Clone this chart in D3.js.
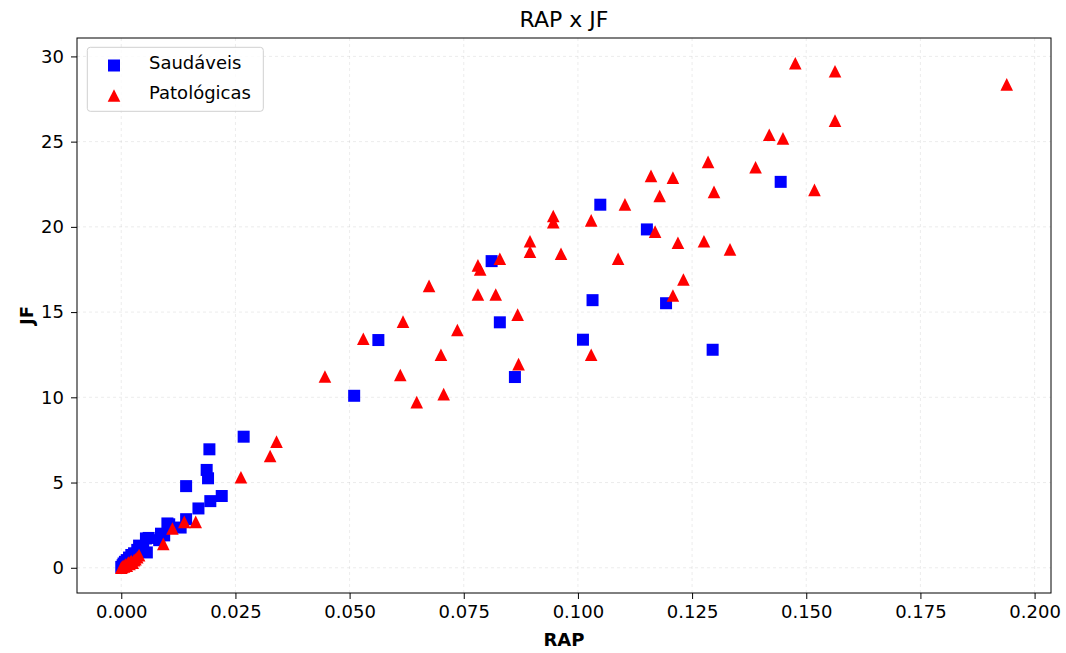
<!DOCTYPE html>
<html>
<head>
<meta charset="utf-8">
<script src="https://cdn.jsdelivr.net/npm/d3@7"></script>
<style>
  body { margin: 0; background: #fff; }
  svg { font-family: "DejaVu Sans", sans-serif; }
</style>
</head>
<body>
<div id="chart"></div>
<script>
const W = 1066, H = 653;
const margin = {left: 77, right: 15, top: 38, bottom: 60};
const plotW = W - margin.left - margin.right;
const plotH = H - margin.top - margin.bottom;

// Saudáveis (blue squares): [RAP, JF]
const saudaveis = [
  [0.0000,0.05],[0.0003,0.15],[0.0005,0.25],[0.0008,0.35],[0.0012,0.45],[0.0017,0.6],
  [0.0022,0.75],[0.0028,0.85],[0.0035,1.05],[0.0039,1.3],[0.0048,1.2],[0.0054,1.72],
  [0.0056,0.9],[0.0060,1.75],[0.0083,1.62],[0.0087,2.0],[0.0094,1.9],[0.0101,2.6],
  [0.0105,2.55],[0.0130,2.36],[0.0142,2.85],[0.0142,4.79],[0.0169,3.48],[0.0187,5.74],
  [0.0190,5.25],[0.0193,6.95],[0.0195,3.91],[0.0220,4.21],[0.0268,7.69],
  [0.0510,10.09],[0.0563,13.36],[0.0811,17.99],[0.0829,14.4],[0.0862,11.19],
  [0.1011,13.38],[0.1032,15.7],[0.1049,21.3],[0.1151,19.85],[0.1193,15.52],
  [0.1295,12.79],[0.1444,22.64]
];

// Patológicas (red triangles): [RAP, JF]
const patologicas = [
  [0.0000,0.0],[0.0002,0.05],[0.0004,0.1],[0.0006,0.08],[0.0008,0.15],[0.0010,0.2],
  [0.0012,0.12],[0.0014,0.25],[0.0016,0.3],[0.0018,0.22],[0.0020,0.35],[0.0022,0.4],
  [0.0025,0.3],[0.0028,0.45],[0.0031,0.5],[0.0035,0.62],[0.0039,0.74],
  [0.0092,1.4],[0.0112,2.3],[0.0138,2.69],[0.0163,2.69],[0.0262,5.31],[0.0326,6.56],
  [0.0340,7.4],[0.0446,11.22],[0.0530,13.44],[0.0611,11.31],[0.0617,14.44],
  [0.0647,9.72],[0.0674,16.54],[0.0700,12.5],[0.0706,10.19],[0.0736,13.95],
  [0.0781,17.74],[0.0786,17.5],[0.0781,16.03],[0.0820,16.03],[0.0829,18.13],
  [0.0868,14.85],[0.0870,11.95],[0.0895,19.16],[0.0895,18.54],[0.0946,20.64],
  [0.0946,20.28],[0.0963,18.42],[0.1029,20.38],[0.1029,12.5],[0.1088,18.13],
  [0.1103,21.32],[0.1160,22.99],[0.1169,19.72],[0.1179,21.81],[0.1208,22.89],
  [0.1208,15.97],[0.1219,19.07],[0.1231,16.91],[0.1276,19.16],[0.1285,23.81],
  [0.1298,22.05],[0.1333,18.68],[0.1389,23.5],[0.1419,25.4],[0.1449,25.19],
  [0.1476,29.6],[0.1518,22.17],[0.1563,29.13],[0.1563,26.23],[0.1939,28.36]
];

const xTicks = [0, 0.025, 0.05, 0.075, 0.1, 0.125, 0.15, 0.175, 0.2];
const yTicks = [0, 5, 10, 15, 20, 25, 30];
const seriesNames = ["Saudáveis", "Patológicas"];
const titleText = "RAP x JF";

const all = saudaveis.concat(patologicas);
const xExt = d3.extent(all, d => d[0]);
const yExt = d3.extent(all, d => d[1]);
const xPad = (xExt[1] - xExt[0]) * 0.05;
const yPad = (yExt[1] - yExt[0]) * 0.05;

const x = d3.scaleLinear().domain([xExt[0] - xPad, xExt[1] + xPad]).range([0, plotW]);
const y = d3.scaleLinear().domain([yExt[0] - yPad, yExt[1] + yPad]).range([plotH, 0]);

const svg = d3.select("#chart").append("svg")
  .attr("width", W).attr("height", H);

const g = svg.append("g")
  .attr("transform", "translate(" + margin.left + "," + margin.top + ")");

// grid
g.append("g").selectAll("line").data(xTicks).enter().append("line")
  .attr("x1", d => x(d)).attr("x2", d => x(d))
  .attr("y1", 0).attr("y2", plotH)
  .attr("stroke", "#b0b0b0").attr("stroke-opacity", 0.3)
  .attr("stroke-dasharray", "3,3").attr("stroke-width", 0.8);
g.append("g").selectAll("line").data(yTicks).enter().append("line")
  .attr("y1", d => y(d)).attr("y2", d => y(d))
  .attr("x1", 0).attr("x2", plotW)
  .attr("stroke", "#b0b0b0").attr("stroke-opacity", 0.3)
  .attr("stroke-dasharray", "3,3").attr("stroke-width", 0.8);

// axes
const xAxis = g.append("g")
  .attr("transform", "translate(0," + plotH + ")")
  .call(d3.axisBottom(x).tickValues(xTicks).tickFormat(d3.format(".3f")).tickSizeOuter(0).tickSize(6).tickPadding(6));
const yAxis = g.append("g")
  .call(d3.axisLeft(y).tickValues(yTicks).tickFormat(d3.format("d")).tickSizeOuter(0).tickSize(6).tickPadding(7));
[xAxis, yAxis].forEach(a => {
  a.select(".domain").remove();
  a.selectAll("text").attr("font-size", "18px").attr("fill", "#000")
    .attr("font-family", "DejaVu Sans, sans-serif");
  a.selectAll("line").attr("stroke", "#000").attr("stroke-width", 1);
});

// frame
g.append("rect").attr("x", 0).attr("y", 0).attr("width", plotW).attr("height", plotH)
  .attr("fill", "none").attr("stroke", "#000").attr("stroke-width", 1);

// markers
const sq = 12;
g.append("g").selectAll("rect").data(saudaveis).enter().append("rect")
  .attr("x", d => x(d[0]) - sq / 2).attr("y", d => y(d[1]) - sq / 2)
  .attr("width", sq).attr("height", sq).attr("fill", "#0000ff");

const th = 6.3;
const triPath = "M0," + (-th) + "L" + th + "," + th + "L" + (-th) + "," + th + "Z";
g.append("g").selectAll("path").data(patologicas).enter().append("path")
  .attr("d", triPath)
  .attr("transform", d => "translate(" + x(d[0]) + "," + y(d[1]) + ")")
  .attr("fill", "#ff0000");

// title and labels
svg.append("text").attr("x", margin.left + plotW / 2).attr("y", 27)
  .attr("text-anchor", "middle").attr("font-size", "22px").text(titleText);
svg.append("text").attr("x", margin.left + plotW / 2).attr("y", 646)
  .attr("text-anchor", "middle").attr("font-size", "18px").attr("font-weight", "bold").text("RAP");
svg.append("text").attr("transform", "translate(33," + (margin.top + plotH / 2) + ") rotate(-90)")
  .attr("text-anchor", "middle").attr("font-size", "18px").attr("font-weight", "bold").text("JF");

// legend
const lg = g.append("g").attr("transform", "translate(10.3,9.3)");
lg.append("rect").attr("width", 176).attr("height", 64).attr("rx", 3)
  .attr("fill", "#fff").attr("fill-opacity", 0.8).attr("stroke", "#d0d0d0");
lg.append("rect").attr("x", 26.7 - sq / 2).attr("y", 18.2 - sq / 2).attr("width", sq).attr("height", sq).attr("fill", "#0000ff");
lg.append("path").attr("d", triPath).attr("transform", "translate(26.7,48.2)").attr("fill", "#ff0000");
lg.selectAll("text.lbl").data(seriesNames).enter().append("text")
  .attr("class", "lbl")
  .attr("x", 61.7).attr("y", (d, i) => 22 + i * 29.7)
  .attr("font-size", "18px").attr("fill", "#000").text(d => d);
</script>
</body>
</html>
